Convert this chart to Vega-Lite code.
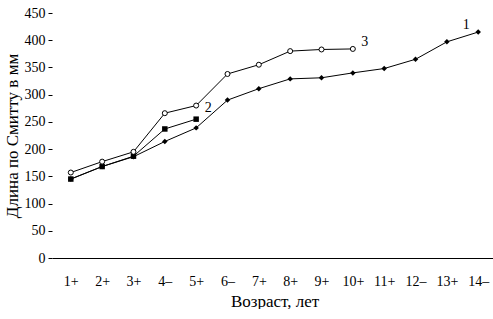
{
  "$schema": "https://vega.github.io/schema/vega-lite/v6.json",
  "width": 445,
  "height": 245,
  "padding": {"left": 3, "top": 6, "right": 0, "bottom": 0},
  "background": "white",
  "config": {
    "view": {"stroke": null},
    "font": "Liberation Serif",
    "axis": {"grid": false, "labelFont": "Liberation Serif", "titleFont": "Liberation Serif", "labelColor": "black", "titleColor": "black", "titleFontWeight": "normal", "domainColor": "black", "tickColor": "black"}
  },
  "datasets": {
    "pts": [
      {"age": "1+", "s": 1, "v": 145},
      {"age": "2+", "s": 1, "v": 168},
      {"age": "3+", "s": 1, "v": 186},
      {"age": "4–", "s": 1, "v": 214},
      {"age": "5+", "s": 1, "v": 239},
      {"age": "6–", "s": 1, "v": 290},
      {"age": "7+", "s": 1, "v": 311},
      {"age": "8+", "s": 1, "v": 329},
      {"age": "9+", "s": 1, "v": 331},
      {"age": "10+", "s": 1, "v": 340},
      {"age": "11+", "s": 1, "v": 348},
      {"age": "12–", "s": 1, "v": 365},
      {"age": "13+", "s": 1, "v": 397},
      {"age": "14–", "s": 1, "v": 415},
      {"age": "1+", "s": 2, "v": 145},
      {"age": "2+", "s": 2, "v": 168},
      {"age": "3+", "s": 2, "v": 187},
      {"age": "4–", "s": 2, "v": 237},
      {"age": "5+", "s": 2, "v": 255},
      {"age": "1+", "s": 3, "v": 157},
      {"age": "2+", "s": 3, "v": 177},
      {"age": "3+", "s": 3, "v": 195},
      {"age": "4–", "s": 3, "v": 266},
      {"age": "5+", "s": 3, "v": 280},
      {"age": "6–", "s": 3, "v": 338},
      {"age": "7+", "s": 3, "v": 355},
      {"age": "8+", "s": 3, "v": 380},
      {"age": "9+", "s": 3, "v": 383},
      {"age": "10+", "s": 3, "v": 384}
    ],
    "labelsRight": [
      {"age": "5+", "v": 275, "t": "2"},
      {"age": "10+", "v": 397, "t": "3"}
    ],
    "labelsLeft": [
      {"age": "14–", "v": 428, "t": "1"}
    ]
  },
  "encoding": {
    "x": {
      "field": "age", "type": "ordinal",
      "sort": ["1+","2+","3+","4–","5+","6–","7+","8+","9+","10+","11+","12–","13+","14–"],
      "scale": {"type": "point", "padding": 0.6, "domain": ["1+","2+","3+","4–","5+","6–","7+","8+","9+","10+","11+","12–","13+","14–"]},
      "axis": {"title": "Возраст, лет", "labelAngle": 0, "ticks": false, "labelFontSize": 14, "labelPadding": 16, "titleFontSize": 17, "titlePadding": 5}
    },
    "y": {
      "field": "v", "type": "quantitative",
      "scale": {"domain": [0, 450], "nice": false},
      "axis": {"title": "Длина по Смитту в мм", "values": [0,50,100,150,200,250,300,350,400,450], "domain": false, "tickSize": 4, "labelPadding": 3, "labelFontSize": 14, "titleFontSize": 17, "titlePadding": 3}
    }
  },
  "layer": [
    {
      "data": {"name": "pts"},
      "transform": [{"filter": "datum.s == 1"}],
      "mark": {"type": "line", "color": "black", "strokeWidth": 1, "point": {"shape": "diamond", "filled": true, "color": "black", "size": 30}}
    },
    {
      "data": {"name": "pts"},
      "transform": [{"filter": "datum.s == 2"}],
      "mark": {"type": "line", "color": "black", "strokeWidth": 1, "point": {"shape": "square", "filled": true, "color": "black", "size": 30}}
    },
    {
      "data": {"name": "pts"},
      "transform": [{"filter": "datum.s == 3"}],
      "mark": {"type": "line", "color": "black", "strokeWidth": 1, "point": {"shape": "circle", "filled": true, "fill": "white", "stroke": "black", "strokeWidth": 1, "size": 25}}
    },
    {
      "data": {"name": "labelsRight"},
      "mark": {"type": "text", "font": "Liberation Serif", "fontSize": 14, "color": "black", "dx": 12},
      "encoding": {"text": {"field": "t"}}
    },
    {
      "data": {"name": "labelsLeft"},
      "mark": {"type": "text", "font": "Liberation Serif", "fontSize": 14, "color": "black", "dx": -12},
      "encoding": {"text": {"field": "t"}}
    }
  ]
}
